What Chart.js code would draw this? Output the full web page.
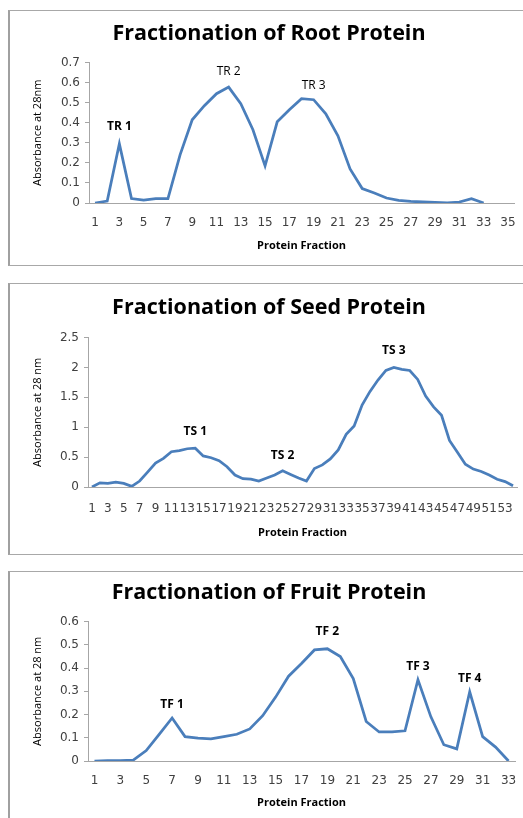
<!DOCTYPE html>
<html lang="en">
<head>
    <meta charset="UTF-8">
    <title>Protein Fractionation</title>
    <script src="https://cdn.jsdelivr.net/npm/chart.js"></script>
    <style>
        html, body { margin: 0; padding: 0; background: #fff; width: 523px; height: 818px; overflow: hidden; }
        .box { position: absolute; left: 8px; width: 540px; border: 1px solid #a8a8a8; border-left: 2px solid #a0a0a0; background: #fff; }
        canvas { position: absolute; left: 0; top: 0; }
    </style>
</head>
<body>
    <div class="box" style="top:10px;height:254px"><canvas id="root" width="520" height="254"></canvas></div>
    <div class="box" style="top:283px;height:270px"><canvas id="seed" width="520" height="270"></canvas></div>
    <div class="box" style="top:571px;height:260px"><canvas id="fruit" width="520" height="246"></canvas></div>

    <script>
    // root protein
    const rootFractions = ['1','2','3','4','5','6','7','8','9','10','11','12','13','14','15','16','17','18','19','20',
        '21','22','23','24','25','26','27','28','29','30','31','32','33','34','35'];
    const rootAbsorbance = [0, 0.01, 0.295, 0.022, 0.015, 0.022, 0.022, 0.24, 0.415, 0.485, 0.545, 0.578, 0.495, 0.365, 0.185,
        0.405, 0.465, 0.52, 0.515, 0.445, 0.335, 0.17, 0.072, 0.05, 0.025, 0.013, 0.008, 0.005, 0.003, 0.001, 0.005, 0.022, 0,
        null, null];
    const rootYTicks = [0, 0.1, 0.2, 0.3, 0.4, 0.5, 0.6, 0.7];
    const rootPeakNames = ['TR 1', 'TR 2', 'TR 3'];
    const rootPeakAt = [2, 11, 18];       // category index
    const rootPeakLevel = [0.382, 0.655, 0.586];

    // seed protein
    const seedFractions = ['1','2','3','4','5','6','7','8','9','10','11','12','13','14','15','16','17','18','19','20',
        '21','22','23','24','25','26','27','28','29','30','31','32','33','34','35','36','37','38','39','40',
        '41','42','43','44','45','46','47','48','49','50','51','52','53','54'];
    const seedAbsorbance = [0, 0.07, 0.06, 0.08, 0.06, 0.01, 0.1, 0.25, 0.4, 0.48, 0.59, 0.61, 0.64, 0.65, 0.52, 0.49, 0.44,
        0.34, 0.2, 0.14, 0.13, 0.1, 0.15, 0.2, 0.27, 0.21, 0.15, 0.1, 0.31, 0.37, 0.47, 0.62, 0.88, 1.02, 1.37, 1.6, 1.79,
        1.95, 2.0, 1.97, 1.95, 1.8, 1.52, 1.34, 1.2, 0.78, 0.58, 0.38, 0.3, 0.26, 0.2, 0.13, 0.09, 0.02];
    const seedYTicks = [0, 0.5, 1, 1.5, 2, 2.5];
    const seedPeakNames = ['TS 1', 'TS 2', 'TS 3'];
    const seedPeakAt = [13, 24, 38];
    const seedPeakLevel = [0.93, 0.53, 2.29];

    // fruit protein
    const fruitFractions = ['1','2','3','4','5','6','7','8','9','10','11','12','13','14','15','16','17','18','19','20',
        '21','22','23','24','25','26','27','28','29','30','31','32','33'];
    const fruitAbsorbance = [0, 0.002, 0.002, 0.004, 0.045, 0.115, 0.185, 0.105, 0.098, 0.095, 0.105, 0.115, 0.138, 0.195,
        0.275, 0.365, 0.42, 0.478, 0.483, 0.45, 0.355, 0.17, 0.125, 0.125, 0.13, 0.35, 0.19, 0.07, 0.052, 0.298, 0.105,
        0.06, 0];
    const fruitYTicks = [0, 0.1, 0.2, 0.3, 0.4, 0.5, 0.6];
    const fruitPeakNames = ['TF 1', 'TF 2', 'TF 3', 'TF 4'];
    const fruitPeakAt = [6, 18, 25, 29];
    const fruitPeakLevel = [0.244, 0.557, 0.407, 0.356];

    const tickFont = { family: 'DejaVu Sans', size: 12 };
    const axisGrey = '#a6a6a6';

    // peak names written at data coordinates
    const peakLabels = {
        id: 'peaks',
        afterDatasetsDraw(chart, args, opts) {
            const ctx = chart.ctx;
            const x = chart.scales.x, y = chart.scales.y;
            ctx.save();
            ctx.fillStyle = '#000';
            ctx.textAlign = 'center';
            ctx.textBaseline = 'middle';
            opts.names.forEach((name, i) => {
                ctx.font = (opts.bold[i] ? 'bold ' : '') + '12px "Open Sans"';
                ctx.fillText(name, x.getPixelForValue(opts.at[i]), y.getPixelForValue(opts.level[i]));
            });
            ctx.restore();
        }
    };

    function build(id, g) {
        return new Chart(document.getElementById(id), {
            type: 'line',
            data: {
                labels: g.labels,
                datasets: [{
                    data: g.values,
                    borderColor: '#4a7ebb',
                    borderWidth: 2.75,
                    pointRadius: 0,
                    tension: 0,
                    fill: false
                }]
            },
            options: {
                responsive: false,
                animation: false,
                layout: { padding: { left: g.padLeft, right: g.padRight, top: 0, bottom: 0 } },
                plugins: {
                    legend: { display: false },
                    tooltip: { enabled: false },
                    title: {
                        display: true,
                        text: g.title,
                        color: '#000',
                        font: { family: 'Open Sans', size: 21.5, weight: 'bold' },
                        padding: { top: g.titleTop, bottom: g.titleBottom }
                    },
                    peaks: { names: g.peakNames, at: g.peakAt, level: g.peakLevel, bold: g.peakBold }
                },
                scales: {
                    x: {
                        offset: true,
                        grid: { display: true, drawOnChartArea: false, drawTicks: false, color: axisGrey },
                        border: { color: axisGrey },
                        ticks: {
                            autoSkip: false, maxRotation: 0, padding: g.tickPad, font: tickFont, color: '#404040',
                            callback: function (v, i) { return i % 2 === 0 ? this.getLabelForValue(v) : ''; }
                        },
                        title: {
                            display: true, text: 'Protein Fraction', color: '#000',
                            font: { family: 'Open Sans', size: 11, weight: 'bold' },
                            padding: { top: 0, bottom: g.xTitleBottom }
                        },
                        afterFit: s => { s.height = g.xHeight; }
                    },
                    y: {
                        min: 0,
                        max: g.yTicks[g.yTicks.length - 1],
                        afterBuildTicks: s => { s.ticks = g.yTicks.map(v => ({ value: v })); },
                        grid: { drawOnChartArea: false, tickLength: 4, color: axisGrey },
                        border: { color: axisGrey },
                        ticks: { padding: 5, font: tickFont, color: '#404040', callback: v => String(v) },
                        title: {
                            display: true, text: g.yTitle, color: '#000',
                            font: { family: 'Open Sans', size: 11 },
                            padding: { top: g.yTitlePad, bottom: 0 }
                        },
                        afterFit: s => { s.width = g.yWidth; }
                    }
                }
            },
            plugins: [peakLabels]
        });
    }

    build('root', {
        labels: rootFractions, values: rootAbsorbance, yTicks: rootYTicks,
        title: 'Fractionation of Root Protein', yTitle: 'Absorbance at 28nm',
        peakNames: rootPeakNames, peakAt: rootPeakAt, peakLevel: rootPeakLevel, peakBold: [true, false, false],
        padLeft: 14, padRight: 16, titleTop: 10.4, titleBottom: 15.4, yWidth: 65, yTitlePad: 7,
        xHeight: 62, tickPad: 13, xTitleBottom: 12.4
    });

    build('seed', {
        labels: seedFractions, values: seedAbsorbance, yTicks: seedYTicks,
        title: 'Fractionation of Seed Protein', yTitle: 'Absorbance at 28 nm',
        peakNames: seedPeakNames, peakAt: seedPeakAt, peakLevel: seedPeakLevel, peakBold: [true, true, true],
        padLeft: 11, padRight: 13, titleTop: 11.4, titleBottom: 16.4, yWidth: 67, yTitlePad: 10,
        xHeight: 67, tickPad: 14.5, xTitleBottom: 15
    });

    build('fruit', {
        labels: fruitFractions, values: fruitAbsorbance, yTicks: fruitYTicks,
        title: 'Fractionation of Fruit Protein', yTitle: 'Absorbance at 28 nm',
        peakNames: fruitPeakNames, peakAt: fruitPeakAt, peakLevel: fruitPeakLevel, peakBold: [true, true, true, true],
        padLeft: 13, padRight: 15, titleTop: 8.4, titleBottom: 15.4, yWidth: 65, yTitlePad: 8,
        xHeight: 57, tickPad: 13, xTitleBottom: 8.4
    });
    </script>
</body>
</html>
